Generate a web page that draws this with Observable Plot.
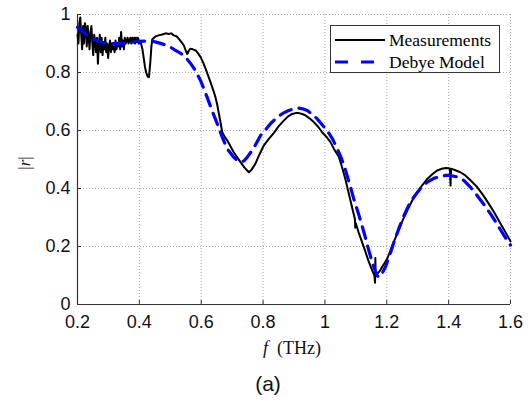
<!DOCTYPE html>
<html>
<head>
<meta charset="utf-8">
<script src="https://cdn.jsdelivr.net/npm/d3@7"></script>
<script src="https://cdn.jsdelivr.net/npm/@observablehq/plot@0.6"></script>
<style>
  html, body { margin: 0; padding: 0; background: #fff; }
  #wrap { position: relative; width: 532px; height: 401px; overflow: hidden; }
  .lbl { position: absolute; white-space: nowrap; color: #111; }
  #legend { position: absolute; left: 330px; top: 25px; width: 168px; height: 46px;
            border: 1px solid #333; background: #fff; font-family: "Liberation Serif", serif; font-size: 17.5px; }
  .row { position: absolute; left: 4px; height: 20px; display: flex; align-items: center; }
  .row span { margin-left: 4px; }
</style>
</head>
<body>
<div id="wrap"></div>
<script>
// Frequency (THz) and |r| of the measurement
const measF = [
  0.200,0.203,0.206,0.209,0.212,0.215,0.218,0.221,0.224,0.227,0.230,0.233,0.236,0.239,0.242,0.245,0.248,0.251,0.254,0.257,
  0.260,0.263,0.266,0.269,0.272,0.275,0.278,0.281,0.284,0.287,0.290,0.293,0.296,0.299,0.302,0.305,0.308,0.311,0.314,0.317,
  0.320,0.323,0.326,0.329,0.332,0.335,0.338,0.341,0.344,0.347,0.350,0.353,0.356,0.359,0.362,0.365,0.368,0.371,0.374,0.377,
  0.380,0.383,0.386,0.389,0.392,0.395,0.398,0.401,0.404,
  0.410,0.414,0.418,0.422,0.427,0.431,0.435,0.439,0.442,0.452,0.462,0.474,0.485,0.495,0.503,0.511,0.520,0.528,0.536,0.544,
  0.550,0.555,0.560,0.565,0.573,0.582,0.590,0.598,0.606,0.614,0.622,0.630,0.638,0.646,0.652,0.657,0.663,0.668,0.676,0.684,
  0.695,0.705,0.716,0.727,0.740,0.754,0.763,0.775,0.785,0.795,0.802,0.818,0.835,0.850,0.867,0.880,0.894,0.905,0.916,0.927,
  0.937,0.950,0.964,0.978,0.991,1.005,1.018,1.030,1.045,1.055,1.066,1.072,1.080,1.090,1.097,1.098,1.100,1.110,1.120,1.130,
  1.140,1.153,1.160,1.162,1.163,1.164,1.169,1.177,1.185,1.200,1.212,1.225,1.239,1.252,1.266,1.282,1.298,1.315,1.331,1.347,
  1.363,1.378,1.390,1.400,1.404,1.406,1.408,1.415,1.422,1.438,1.454,1.473,1.492,1.511,1.530,1.546,1.562,1.580,1.600
];
const measR = [
  0.93,0.90,0.97,0.99,0.93,0.88,0.96,0.90,0.97,0.95,0.89,0.96,0.92,0.88,0.94,0.96,0.90,0.86,0.93,0.91,
  0.87,0.92,0.83,0.90,0.93,0.87,0.92,0.86,0.90,0.88,0.92,0.87,0.90,0.85,0.89,0.91,0.87,0.90,0.88,0.89,
  0.87,0.91,0.88,0.90,0.89,0.92,0.88,0.94,0.89,0.91,0.88,0.92,0.90,0.91,0.92,0.90,0.91,0.92,0.90,0.92,
  0.91,0.92,0.90,0.92,0.91,0.92,0.90,0.91,0.905,
  0.88,0.85,0.82,0.80,0.786,0.784,0.83,0.89,0.915,0.924,0.928,0.931,0.935,0.933,0.935,0.928,0.925,0.916,0.905,0.893,
  0.875,0.864,0.875,0.882,0.880,0.876,0.866,0.853,0.835,0.813,0.79,0.767,0.742,0.715,0.688,0.658,0.625,0.594,0.578,0.566,
  0.545,0.525,0.508,0.491,0.472,0.456,0.465,0.485,0.51,0.532,0.548,0.57,0.592,0.614,0.634,0.648,0.657,0.66,0.66,0.657,
  0.652,0.642,0.629,0.613,0.594,0.578,0.56,0.535,0.51,0.475,0.433,0.405,0.37,0.325,0.295,0.265,0.28,0.245,0.215,0.185,
  0.153,0.117,0.10,0.075,0.16,0.105,0.106,0.115,0.129,0.155,0.186,0.222,0.258,0.292,0.324,0.358,0.387,0.412,0.433,0.449,
  0.462,0.468,0.471,0.47,0.468,0.41,0.468,0.466,0.463,0.456,0.445,0.426,0.405,0.378,0.347,0.32,0.29,0.256,0.218
];
// Debye model
const modelF = [
  0.200,0.215,0.231,0.250,0.274,0.307,0.355,0.393,0.420,0.442,0.460,0.479,0.500,0.517,0.535,0.549,0.565,0.581,0.598,0.608,
  0.619,0.635,0.652,0.668,0.684,0.705,0.716,0.727,0.738,0.749,0.770,0.792,0.802,0.825,0.846,0.865,0.883,0.900,0.916,0.930,
  0.943,0.960,0.975,0.991,1.007,1.024,1.040,1.053,1.066,1.080,1.093,1.107,1.120,1.131,1.142,1.153,1.163,1.170,1.175,1.185,
  1.196,1.210,1.223,1.240,1.255,1.270,1.287,1.310,1.331,1.352,1.374,1.390,1.406,1.427,1.449,1.470,1.492,1.514,1.535,1.552,
  1.568,1.585,1.600
];
const modelR = [
  0.956,0.943,0.928,0.915,0.905,0.899,0.901,0.907,0.908,0.908,0.903,0.897,0.888,0.876,0.865,0.853,0.832,0.807,0.772,0.745,
  0.715,0.669,0.623,0.577,0.537,0.508,0.497,0.491,0.495,0.508,0.54,0.583,0.595,0.625,0.646,0.66,0.669,0.675,0.677,0.674,
  0.669,0.655,0.64,0.62,0.6,0.572,0.537,0.505,0.465,0.415,0.365,0.318,0.272,0.23,0.186,0.145,0.115,0.098,0.094,0.108,
  0.13,0.172,0.215,0.265,0.305,0.34,0.37,0.402,0.422,0.435,0.442,0.445,0.445,0.44,0.428,0.405,0.376,0.345,0.313,0.285,
  0.257,0.228,0.205
];
const xTicks = [0.2, 0.4, 0.6, 0.8, 1.0, 1.2, 1.4, 1.6];
const yTicks = [0, 0.2, 0.4, 0.6, 0.8, 1.0];
const seriesNames = ["Measurements", "Debye Model"];

const meas = measF.map((f, i) => ({f, r: measR[i]}));
const model = modelF.map((f, i) => ({f, r: modelR[i]}));
const fmt = d => String(+d.toFixed(1));

const W = 532, H = 365, mL = 77, mR = 22, mT = 14, mB = 61;
const plotW = W - mL - mR, plotH = H - mT - mB;
const gridStyle = {stroke: "#a8a8a8", strokeOpacity: 1, strokeWidth: 1, strokeDasharray: "1,2"};

const chart = Plot.plot({
  width: W, height: H,
  marginLeft: mL, marginRight: mR, marginTop: mT, marginBottom: mB,
  style: {fontFamily: "'Liberation Sans', Arial, sans-serif", fontSize: "18px", color: "#111", background: "#fff"},
  x: {domain: [0.2, 1.6]},
  y: {domain: [0, 1]},
  marks: [
    Plot.gridX(xTicks, gridStyle),
    Plot.gridY(yTicks, gridStyle),
    Plot.axisX({ticks: xTicks, tickFormat: fmt, tickSize: 0, tickPadding: 11, label: null, fontSize: 18}),
    Plot.axisY({ticks: yTicks, tickFormat: fmt, tickSize: 0, tickPadding: 7, label: null, fontSize: 18}),
    Plot.ruleX(xTicks, {x: d => d, insetTop: plotH - 4, stroke: "#333"}),
    Plot.ruleY(yTicks, {y: d => d, insetRight: plotW - 4, stroke: "#333"}),
    Plot.ruleX([0.2], {stroke: "#333", strokeWidth: 1.2}),
    Plot.ruleY([0], {stroke: "#333", strokeWidth: 1.2}),
    Plot.line(meas, {x: "f", y: "r", stroke: "#000", strokeWidth: 2, strokeLinejoin: "round"}),
    Plot.line(model, {x: "f", y: "r", stroke: "#0000ff", strokeWidth: 3.2, strokeDasharray: "12,8"})
  ]
});

const wrap = document.getElementById("wrap");
wrap.appendChild(chart);

function addLabel(html, css) {
  const d = document.createElement("div");
  d.className = "lbl";
  d.innerHTML = html;
  Object.assign(d.style, css);
  wrap.appendChild(d);
}
addLabel("|<i>r</i>|", {left: "25px", top: "163px", transform: "translate(-50%,-50%) rotate(-90deg)",
  fontFamily: "'Liberation Serif', serif", fontSize: "17px"});
addLabel("<i>f</i>&nbsp; (THz)", {left: "292px", top: "348px", transform: "translate(-50%,-50%)",
  fontFamily: "'Liberation Serif', serif", fontSize: "18px"});
addLabel("(a)", {left: "268px", top: "384px", transform: "translate(-50%,-50%)",
  fontFamily: "'Liberation Sans', Arial, sans-serif", fontSize: "21px"});

const legend = document.createElement("div");
legend.id = "legend";
const swatches = [
  '<svg width="50" height="6"><line x1="0" y1="3" x2="50" y2="3" stroke="#000" stroke-width="2"/></svg>',
  '<svg width="50" height="6"><line x1="0" y1="3" x2="50" y2="3" stroke="#0000ff" stroke-width="3.2" stroke-dasharray="13,13"/></svg>'
];
seriesNames.forEach((name, i) => {
  const row = document.createElement("div");
  row.className = "row";
  row.style.top = (i === 0 ? 4 : 26) + "px";
  row.innerHTML = swatches[i] + "<span>" + name + "</span>";
  legend.appendChild(row);
});
wrap.appendChild(legend);
</script>
</body>
</html>
